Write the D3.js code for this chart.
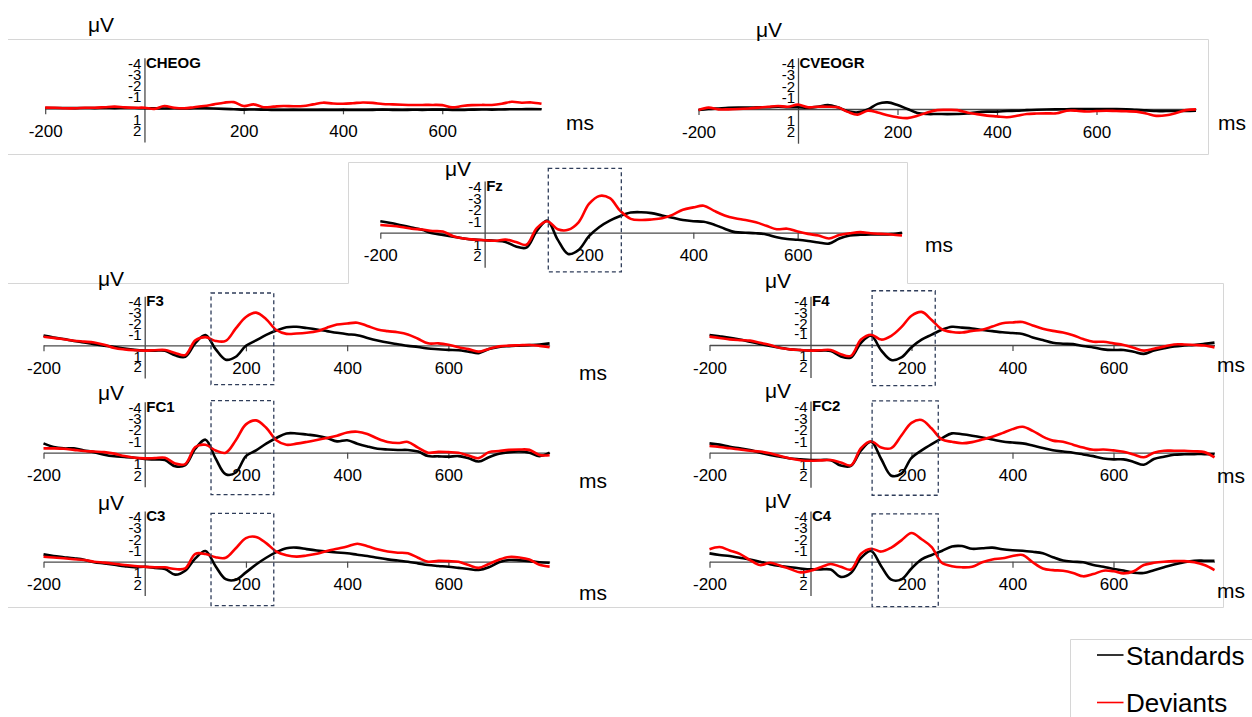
<!DOCTYPE html>
<html><head><meta charset="utf-8">
<script src="https://cdn.jsdelivr.net/npm/d3@7"></script>
<style>body{margin:0;background:#fff}svg{display:block}text{font-family:"Liberation Sans",Arial,Helvetica,sans-serif}</style>
</head><body><svg id="c" width="1252" height="717"></svg>
<script>
// ---------- data ----------
const times = [-200,-180,-160,-140,-120,-100,-80,-60,-40,-20,0,20,40,60,80,100,120,140,160,180,200,220,240,260,280,300,320,340,360,380,400,420,440,460,480,500,520,540,560,580,600,620,640,660,680,700,720,740,760,780,800];
const xTickValues = [-200,200,400,600];
const yTickValues = [-4,-3,-2,-1,1,2];
const channels = ["CHEOG","CVEOGR","Fz","F3","F4","FC1","FC2","C3","C4"];
const seriesNames = ["Standards","Deviants"];
const seriesColors = ["#000000","#ff0000"];

const stdCHEOG = [-0.03,-0.03,-0.03,-0.02,-0.03,-0.02,-0.03,-0.02,-0.03,-0.02,0.0,0.0,0.02,0.0,0.02,0.0,0.0,0.02,0.05,0.08,0.12,0.1,0.12,0.15,0.15,0.14,0.15,0.15,0.14,0.15,0.14,0.15,0.15,0.14,0.12,0.14,0.15,0.13,0.14,0.12,0.12,0.14,0.15,0.12,0.1,0.12,0.1,0.08,0.08,0.07,0.08];
const devCHEOG = [-0.06,-0.05,0,0,-0.05,-0.05,-0.1,-0.15,-0.08,-0.05,-0.05,0.05,-0.2,-0.05,0,-0.1,-0.2,-0.35,-0.5,-0.55,-0.2,-0.35,-0.1,-0.15,-0.2,-0.18,-0.2,-0.35,-0.5,-0.42,-0.4,-0.45,-0.52,-0.48,-0.38,-0.35,-0.32,-0.3,-0.3,-0.3,-0.28,-0.08,-0.2,-0.28,-0.3,-0.3,-0.4,-0.58,-0.5,-0.52,-0.4];
const stdCVEOGR = [0.09,0.0,-0.05,-0.1,-0.12,-0.12,-0.15,-0.15,-0.2,-0.15,-0.15,-0.12,-0.2,-0.35,-0.15,0.2,0.3,0.05,-0.45,-0.58,-0.35,0.0,0.35,0.44,0.44,0.45,0.44,0.4,0.28,0.23,0.23,0.18,0.15,0.1,0.07,0.05,0.03,0.02,0.0,0.0,0.0,0.0,0.0,0.03,0.08,0.12,0.18,0.18,0.18,0.17,0.15];
const devCVEOGR = [0.09,-0.12,0.03,0.03,0.0,-0.05,-0.12,-0.2,-0.26,-0.2,-0.38,-0.15,-0.2,-0.2,-0.15,0.25,0.5,0.15,0.3,0.55,0.73,0.8,0.6,0.3,0.1,0.08,0.1,0.3,0.45,0.58,0.65,0.72,0.6,0.44,0.4,0.38,0.38,0.15,0.15,0.22,0.18,0.15,0.18,0.2,0.23,0.4,0.6,0.55,0.35,0.1,0.03];
const stdFz = [-1.0,-0.85,-0.65,-0.45,-0.25,0.05,0.2,0.35,0.5,0.6,0.65,0.7,0.8,1.2,1.3,-0.15,-1.05,0.6,1.85,1.5,0.3,-0.5,-1.05,-1.45,-1.75,-1.78,-1.7,-1.5,-1.3,-1.1,-1.0,-0.95,-0.7,-0.35,-0.05,0.0,0.05,0.15,0.4,0.55,0.62,0.72,0.85,0.95,0.5,0.25,0.18,0.15,0.15,0.12,0.0];
const devFz = [-0.67,-0.6,-0.5,-0.35,-0.28,-0.15,-0.1,0.3,0.5,0.6,0.65,0.7,0.6,0.8,1.05,-0.4,-1.0,-0.3,-0.25,-0.9,-2.5,-3.2,-3.0,-1.9,-1.2,-1.1,-1.15,-1.25,-1.55,-2.0,-2.2,-2.35,-1.9,-1.5,-1.25,-1.1,-0.9,-0.6,-0.3,-0.35,-0.1,0.1,0.25,0.5,0.2,0.05,-0.05,0.05,0.1,0.15,0.25];
const stdF3 = [-0.89,-0.72,-0.57,-0.4,-0.26,-0.1,0.03,0.15,0.3,0.42,0.48,0.49,0.5,0.92,1.05,-0.2,-0.95,0.35,1.32,1.05,0.05,-0.45,-0.95,-1.35,-1.66,-1.7,-1.58,-1.45,-1.3,-1.15,-1.02,-0.93,-0.68,-0.45,-0.25,-0.1,0.05,0.15,0.3,0.36,0.42,0.45,0.58,0.72,0.35,0.15,0.08,0.03,-0.02,-0.08,-0.18];
const devF3 = [-0.79,-0.68,-0.55,-0.42,-0.34,-0.26,-0.05,0.25,0.38,0.45,0.49,0.45,0.43,0.7,0.9,-0.45,-0.75,-0.4,-0.4,-1.55,-2.6,-3.0,-2.4,-1.4,-1.05,-1.08,-1.15,-1.28,-1.62,-1.9,-2.0,-2.07,-1.78,-1.45,-1.3,-1.2,-1.0,-0.6,-0.18,-0.18,-0.05,0.18,0.35,0.58,0.33,0.1,0.03,0.0,-0.03,0.05,0.18];
const stdF4 = [-0.92,-0.8,-0.67,-0.5,-0.3,-0.1,0.1,0.25,0.4,0.47,0.52,0.52,0.55,1.05,1.15,-0.2,-0.85,0.5,1.38,1.15,0.2,-0.5,-0.95,-1.4,-1.68,-1.6,-1.52,-1.38,-1.28,-1.17,-1.1,-1.02,-0.7,-0.45,-0.2,-0.12,-0.08,0.1,0.23,0.4,0.46,0.46,0.62,0.82,0.5,0.3,0.13,0.05,0.0,-0.1,-0.22];
const devF4 = [-0.77,-0.65,-0.52,-0.45,-0.4,-0.2,0.0,0.28,0.4,0.46,0.52,0.48,0.46,0.85,1.0,-0.5,-0.95,-0.5,-0.85,-1.65,-2.7,-3.05,-2.3,-1.45,-1.2,-1.15,-1.3,-1.4,-1.7,-2.0,-2.08,-2.12,-1.8,-1.5,-1.3,-1.15,-0.9,-0.55,-0.3,-0.3,-0.15,0.0,0.25,0.52,0.35,0.15,-0.05,-0.05,0.0,0.05,0.22];
const stdFC1 = [-0.82,-0.5,-0.38,-0.38,-0.2,-0.05,0.18,0.32,0.38,0.45,0.55,0.6,0.65,1.2,1.1,-0.35,-1.15,0.5,1.9,1.75,0.3,-0.2,-0.8,-1.3,-1.7,-1.7,-1.6,-1.5,-1.3,-1.0,-1.1,-0.8,-0.55,-0.35,-0.28,-0.24,-0.24,-0.1,0.3,0.32,0.35,0.3,0.5,0.78,0.4,0.1,-0.05,-0.1,0.0,0.3,0.0];
const devFC1 = [-0.38,-0.38,-0.35,-0.25,-0.15,-0.1,-0.05,0.08,0.3,0.45,0.5,0.48,0.45,0.95,1.0,-0.5,-0.7,-0.2,0.0,-1.1,-2.5,-2.85,-2.2,-1.1,-0.7,-0.8,-0.95,-1.12,-1.3,-1.5,-1.78,-1.85,-1.65,-1.25,-0.95,-0.85,-0.95,-0.45,0.0,-0.07,-0.05,0.0,0.25,0.48,-0.05,-0.15,-0.25,-0.28,-0.25,0.2,0.22];
const stdFC2 = [-0.81,-0.7,-0.52,-0.38,-0.23,0.0,0.2,0.35,0.5,0.57,0.64,0.64,0.65,1.12,1.15,-0.2,-0.95,0.55,2.0,1.82,0.45,-0.2,-0.75,-1.25,-1.68,-1.6,-1.48,-1.33,-1.15,-0.97,-0.88,-0.81,-0.62,-0.4,-0.22,-0.1,0.0,0.15,0.3,0.5,0.58,0.58,0.8,1.05,0.55,0.35,0.18,0.14,0.12,0.12,0.12];
const devFC2 = [-0.58,-0.5,-0.38,-0.28,-0.17,-0.1,0.05,0.28,0.5,0.65,0.7,0.67,0.64,0.85,1.1,-0.4,-1.0,-0.45,-0.4,-1.5,-2.6,-2.85,-2.1,-1.15,-0.95,-0.82,-0.92,-1.15,-1.38,-1.7,-2.05,-2.25,-1.9,-1.4,-1.05,-0.95,-0.7,-0.45,-0.25,-0.28,-0.2,-0.08,0.15,0.4,0.0,-0.17,-0.17,-0.17,-0.12,-0.05,0.4];
const stdC3 = [-0.65,-0.5,-0.4,-0.3,-0.18,0.05,0.15,0.27,0.4,0.5,0.45,0.55,0.65,1.15,0.8,-0.3,-0.95,0.4,1.55,1.6,0.95,0.25,-0.35,-0.85,-1.2,-1.25,-1.12,-1.0,-0.9,-0.82,-0.75,-0.62,-0.5,-0.35,-0.21,-0.1,0.0,0.15,0.3,0.38,0.45,0.55,0.65,0.74,0.5,0.05,-0.15,-0.12,-0.05,0.05,0.09];
const devC3 = [-0.44,-0.37,-0.3,-0.22,-0.15,0.0,0.08,0.18,0.3,0.38,0.45,0.5,0.5,0.65,0.6,-0.7,-0.68,-0.4,-0.35,-1.2,-2.1,-2.2,-1.65,-0.9,-0.58,-0.45,-0.55,-0.7,-0.95,-1.15,-1.35,-1.6,-1.38,-1.1,-0.9,-0.8,-0.75,-0.35,0.0,-0.07,-0.05,0.0,0.3,0.55,0.2,-0.18,-0.42,-0.38,-0.2,0.28,0.44];
const stdC4 = [-0.74,-0.6,-0.5,-0.35,-0.2,0.0,0.22,0.38,0.5,0.6,0.68,0.68,0.7,1.35,1.0,-0.35,-0.95,0.4,1.6,1.57,0.6,-0.2,-0.6,-0.95,-1.35,-1.39,-1.15,-1.2,-1.25,-1.1,-1.02,-0.98,-0.88,-0.75,-0.4,-0.1,0.0,0.05,0.3,0.45,0.65,0.78,0.98,1.0,0.75,0.5,0.25,0.05,-0.08,-0.09,-0.09];
const devC4 = [-1.1,-1.3,-1.0,-0.7,-0.15,0.3,0.1,0.35,0.65,0.95,0.8,0.5,0.2,0.45,0.7,-0.7,-1.15,-0.9,-1.25,-1.9,-2.55,-2.0,-1.3,0.1,0.4,0.5,0.45,0.05,-0.2,-0.3,-0.5,-0.6,0.05,0.6,0.75,0.8,1.0,1.3,1.1,0.8,0.85,1.04,0.85,0.3,0.1,0.0,-0.05,-0.05,0.05,0.3,0.74];

const seriesByChannel = {
  CHEOG:[stdCHEOG,devCHEOG], CVEOGR:[stdCVEOGR,devCVEOGR], Fz:[stdFz,devFz],
  F3:[stdF3,devF3], F4:[stdF4,devF4], FC1:[stdFC1,devFC1], FC2:[stdFC2,devFC2],
  C3:[stdC3,devC3], C4:[stdC4,devC4]
};
// highlighted time windows (ms) and their vertical extent (µV)
const windows = {
  Fz:[122,262,-5.6,3.4], F3:[131,255,-4.8,3.6], F4:[122,247,-5.0,3.75],
  FC1:[131,255,-4.6,3.7], FC2:[122,253,-4.5,3.7], C3:[131,255,-4.3,3.9], C4:[122,253,-4.25,4.0]
};

// ---------- layout ----------
const layout = {
  CHEOG:{x0:45.2,x1:541.5,base:108.3,ppu:11.25,mu:[88,32],ms:[566,130]},
  CVEOGR:{x0:698.5,x1:1196,base:109,ppu:11.4,mu:[756,37],ms:[1218,130]},
  Fz:{x0:380.3,x1:902,base:232.7,ppu:11.5,mu:[445,176],ms:[925,252]},
  F3:{x0:43.5,x1:549.6,base:345.3,ppu:10.9,mu:[98,286],ms:[579,380]},
  F4:{x0:709.5,x1:1214.5,base:345,ppu:10.85,mu:[765,288],ms:[1217,372]},
  FC1:{x0:43.5,x1:549.6,base:452.7,ppu:11.33,mu:[98,400],ms:[579,488]},
  FC2:{x0:709.5,x1:1214.5,base:452.7,ppu:11.5,mu:[765,398],ms:[1217,483]},
  C3:{x0:43.5,x1:549.6,base:561.7,ppu:11.25,mu:[98,510],ms:[579,600]},
  C4:{x0:709.5,x1:1214.5,base:561.7,ppu:11.25,mu:[765,508],ms:[1217,598]}
};

const svg = d3.select("#c");
const FONT = '"Liberation Sans",Arial,Helvetica,sans-serif';

// panel outlines
const outline = svg.append("g").attr("fill","none").attr("stroke","#d6d6d6").attr("stroke-width",1);
[
  [[8,39.5],[1208.5,39.5],[1208.5,154.5],[8,154.5]],
  [[8,283.5],[348.5,283.5],[348.5,162.5],[907.5,162.5],[907.5,283.5],[1223.5,283.5],[1223.5,607.5],[8,607.5]],
  [[1070.5,717],[1070.5,639.5],[1252,639.5]]
].forEach(p => outline.append("path").attr("d", d3.line()(p)));

const line = d3.line().curve(d3.curveCatmullRom.alpha(0.5));

channels.forEach(ch => {
  const L = layout[ch];
  const x = d3.scaleLinear().domain([-200,800]).range([L.x0,L.x1]);
  const y = d3.scaleLinear().domain([-4.5,3]).range([L.base-4.5*L.ppu, L.base+3*L.ppu]);
  const g = svg.append("g");

  // x axis
  const xa = g.append("g").attr("transform",`translate(0,${y(0)})`)
    .call(d3.axisBottom(x).tickValues(xTickValues).tickSize(6).tickSizeOuter(0).tickPadding(10.5).tickFormat(d=>String(d)));
  xa.select(".domain").attr("stroke","#4a4a4a").attr("stroke-width",1.3);
  xa.selectAll(".tick line").attr("stroke","#4a4a4a").attr("stroke-width",1.2);
  xa.selectAll("text").attr("font-family",FONT).attr("font-size",17).attr("fill","#000");

  // y axis
  const ya = g.append("g").attr("transform",`translate(${x(0)},0)`)
    .call(d3.axisLeft(y).tickValues(yTickValues).tickSize(0).tickSizeOuter(0).tickPadding(3).tickFormat(d=>String(d)));
  ya.select(".domain").attr("stroke","#4a4a4a").attr("stroke-width",1.3);
  ya.selectAll("text").attr("font-family",FONT).attr("font-size",15).attr("fill","#000");

  // labels
  g.append("text").attr("x",x(0)+1.5).attr("y",y(-4)+4.5).attr("font-size",15).attr("font-weight","bold").text(ch);
  g.append("text").attr("x",L.mu[0]).attr("y",L.mu[1]).attr("font-size",21).text("\u03BCV");
  g.append("text").attr("x",L.ms[0]).attr("y",L.ms[1]).attr("font-size",21).text("ms");

  // waveforms
  seriesByChannel[ch].forEach((vals,i) => {
    g.append("path")
      .attr("d", line(times.map((t,k)=>[x(t), y(vals[k])])))
      .attr("fill","none").attr("stroke",seriesColors[i]).attr("stroke-width",2.6)
      .attr("stroke-linejoin","round");
  });

  // highlighted window
  const w = windows[ch];
  if (w) {
    g.append("rect").attr("x",x(w[0])).attr("y",y(w[2]))
      .attr("width",x(w[1])-x(w[0])).attr("height",y(w[3])-y(w[2]))
      .attr("fill","none").attr("stroke","#2f3d5a").attr("stroke-width",1.3).attr("stroke-dasharray","4,3");
  }
});

// legend
const leg = svg.append("g");
seriesNames.forEach((n,i) => {
  const yy = i===0 ? 655 : 702.5;
  leg.append("line").attr("x1",1097).attr("x2",1123.5).attr("y1",yy).attr("y2",yy)
    .attr("stroke",seriesColors[i]).attr("stroke-width",1.6);
  leg.append("text").attr("x",1126).attr("y",yy+9.5).attr("font-size",26).attr("fill","#000").text(n);
});
</script></body></html>
